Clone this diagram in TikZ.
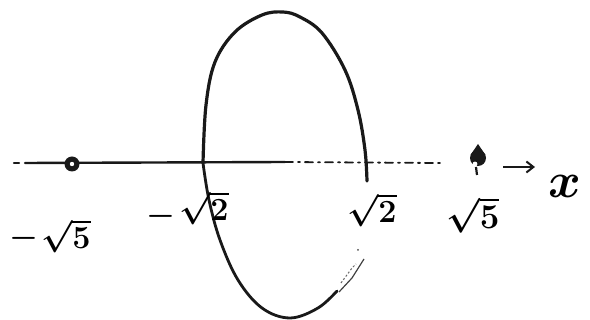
\documentclass[tikz,border=0pt]{standalone}
\usepackage{graphicx}
\usetikzlibrary{arrows.meta}
\begin{document}
\begin{tikzpicture}[x=1pt,y=-1pt,
  ink/.style={line width=3.2pt,line cap=round,line join=round,black!90},
  axisline/.style={line width=2.4pt,line cap=round,black!90},
  lbl/.style={font=\fontsize{24}{26}\selectfont\boldmath,inner sep=0pt}]
\fill[white] (0,0) rectangle (590,320);
\useasboundingbox (0,0) rectangle (590,320);
% axis
\coordinate (axL) at (25,163);
\coordinate (axM) at (285,162);
\coordinate (axR) at (440,163);
\draw[axisline] (14,163) -- (19,163);
\draw[axisline] (axL) -- (axM);
\draw[axisline,line width=1.8pt,dash pattern=on 8pt off 5pt on 2pt off 5pt] (axM) -- (axR);
% dots
\node (p1) [circle,fill=black!90,minimum size=15pt,inner sep=0pt] at (72,164) {};
\fill[white] (p1.center) circle (2.2pt);
\node (p2) [circle,fill=black!90,minimum size=16pt,inner sep=0pt] at (478,158) {};
\fill[black!90] (470.5,155) -- (478,144) -- (485.5,155) -- cycle;
\fill[white] (475,164) circle (2.4pt);
\draw[line width=2.2pt,black!90] (476,167) -- (477,175);
% arrow
\coordinate (a1) at (503,167);
\coordinate (a2) at (535,167);
\draw[line width=2pt,black!90,-{Straight Barb[length=7pt,width=11pt]}] (a1) -- (a2);
\node (xl) [lbl] at (565,186) {\scalebox{2.0}{$x$}};
% oval
\coordinate (oL) at (203,163);
\coordinate (oR) at (367,181);
\draw[ink] plot[smooth,tension=0.6] coordinates {(oR) (365,150) (358,110) (345,70) (322,33) (300,17) (283,12) (262,15) (235,32) (215,62) (206,105) (oL)};
\draw[ink,line width=2.8pt] plot[smooth,tension=0.6] coordinates {(oL) (209,200) (220,240) (238,280) (262,308) (290,318) (318,308) (337,291)};
\draw[line width=1.2pt,black!75] (339,292) -- (352,278) -- (364,259);
\draw[line width=1pt,black!60,dash pattern=on 2pt off 2pt] (341,283) -- (352,268) -- (356,264);
\fill[black!70] (358,250) circle (1pt);
% labels
\node (l1m) [lbl] at (24,238) {\scalebox{1.3}{$-$}};
\node (l1) [lbl] at (66,236) {\scalebox{1.3}{$\sqrt{5}$}};
\node (l2m) [lbl] at (161,216) {\scalebox{1.3}{$-$}};
\node (l2) [lbl] at (204,208) {\scalebox{1.3}{$\sqrt{2}$}};
\node (l3) [lbl] at (372,210) {\scalebox{1.3}{$\sqrt{2}$}};
\node (l4) [lbl] at (473,215) {\scalebox{1.4}{$\sqrt{5}$}};
\end{tikzpicture}
\end{document}
